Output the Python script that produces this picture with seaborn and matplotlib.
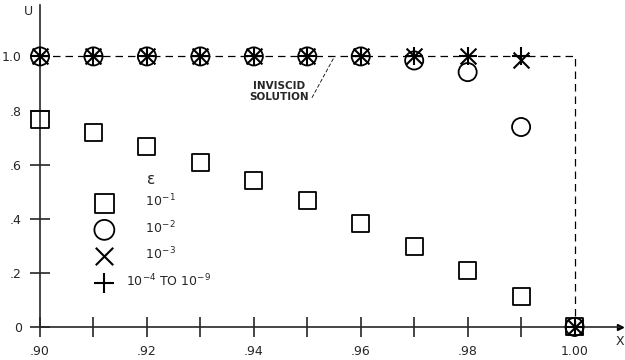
import numpy as np
import pandas as pd
import matplotlib
matplotlib.use("Agg")
import matplotlib.pyplot as plt
import seaborn as sns

# data
x_vals = [0.90, 0.91, 0.92, 0.93, 0.94, 0.95, 0.96, 0.97, 0.98, 0.99, 1.00]
u_eps1 = [0.767, 0.717, 0.668, 0.606, 0.542, 0.466, 0.383, 0.299, 0.210, 0.112, 0.0]
u_eps2 = [1.0, 1.0, 1.0, 1.0, 1.0, 1.0, 1.0, 0.985, 0.942, 0.739, 0.0]
u_eps3 = [1.0, 1.0, 1.0, 1.0, 1.0, 1.0, 1.0, 1.0, 1.0, 0.985, 0.0]
u_eps4 = [1.0, 1.0, 1.0, 1.0, 1.0, 1.0, 1.0, 1.0, 1.0, 1.0, 0.0]
inviscid_x = [0.90, 1.00, 1.00]
inviscid_u = [1.0, 1.0, 0.0]

x_ticks = [0.90, 0.91, 0.92, 0.93, 0.94, 0.95, 0.96, 0.97, 0.98, 0.99, 1.00]
x_ticklabels = [".90", "", ".92", "", ".94", "", ".96", "", ".98", "", "1.00"]
y_ticks = [0, 0.2, 0.4, 0.6, 0.8, 1.0]
y_ticklabels = ["0", ".2", ".4", ".6", ".8", "1.0"]

sns.set_style("ticks")
plt.rcParams['font.family'] = ['DejaVu Sans']
plt.rcParams['font.size'] = 9

fig = plt.figure(figsize=(6.25, 3.6), dpi=100)
ax = fig.add_axes([0.064, 0.092, 0.928, 0.894])

# inviscid solution (dashed)
ax.plot(inviscid_x, inviscid_u, color="black", lw=0.9, ls=(0, (6, 4)), zorder=1)

df = pd.DataFrame({"x": x_vals, "e1": u_eps1, "e2": u_eps2, "e3": u_eps3, "e4": u_eps4})

sns.scatterplot(data=df, x="x", y="e1", marker="s", s=150, facecolors="none",
                edgecolor="black", linewidth=1.3, label="     $10^{-1}$", ax=ax,
                zorder=3, clip_on=False)
sns.scatterplot(data=df, x="x", y="e2", marker="o", s=170, facecolors="none",
                edgecolor="black", linewidth=1.3, label="     $10^{-2}$", ax=ax,
                zorder=3, clip_on=False)
sns.scatterplot(data=df, x="x", y="e3", marker="x", s=130, color="black",
                linewidth=1.5, label="     $10^{-3}$", ax=ax, zorder=3, clip_on=False)
sns.scatterplot(data=df, x="x", y="e4", marker="+", s=170, color="black",
                linewidth=1.5, label="$10^{-4}$ TO $10^{-9}$", ax=ax, zorder=3,
                clip_on=False)

ax.set_xlim(0.90, 1.0085)
ax.set_ylim(0, 1.19)
ax.set_xticks(x_ticks)
ax.set_xticklabels(x_ticklabels)
ax.set_yticks(y_ticks)
ax.set_yticklabels(y_ticklabels)
ax.tick_params(direction="inout", length=14, width=1.2, pad=6, labelsize=9)
ax.set_xlabel("")
ax.set_ylabel("")

sns.despine(ax=ax)
for sp in ["left", "bottom"]:
    ax.spines[sp].set_linewidth(1.2)

# axis arrows
ax.plot(1, 0, ">k", ms=5, transform=ax.get_yaxis_transform(), clip_on=False)
ax.plot(0, 1, "^k", ms=5, transform=ax.get_xaxis_transform(), clip_on=False)
ax.text(-0.012, 1.0, "U", transform=ax.transAxes, ha="right", va="top", fontsize=9)
ax.text(1.0, -0.025, "X", transform=ax.transAxes, ha="center", va="top", fontsize=9)

# annotation
ax.annotate("INVISCID\nSOLUTION", xy=(0.9551, 1.0), xytext=(0.9447, 0.87),
            ha="center", va="center", fontsize=7.5, fontweight="bold",
            arrowprops=dict(arrowstyle="-", lw=0.6, ls=(0, (4, 3)), color="black",
                            shrinkA=0, shrinkB=0, relpos=(1.05, 0.2)))

leg = ax.legend(title="ε", loc="upper left", bbox_to_anchor=(0.07, 0.515),
                frameon=False, labelspacing=0.8, handletextpad=0.7, fontsize=9,
                title_fontsize=11, markerscale=1.1)
leg._legend_box.align = "center"
leg._legend_box.sep = 4

fig.savefig("out.png", dpi=100)
